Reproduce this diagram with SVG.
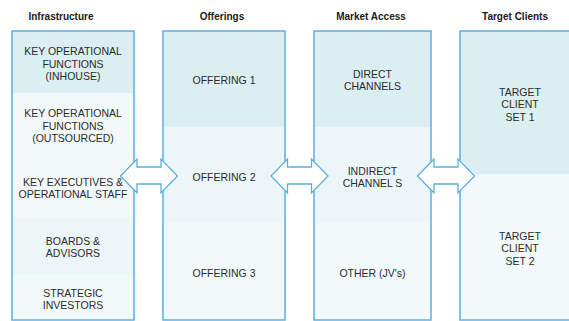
<svg xmlns="http://www.w3.org/2000/svg" width="569" height="321" viewBox="0 0 569 321">
  <style>
    .title { font-family: "Liberation Sans", Arial, sans-serif; font-weight: bold; font-size: 10px; fill: #1a1a1a; text-anchor: middle; }
    .lbl { font-family: "Liberation Sans", Arial, sans-serif; font-size: 10.5px; fill: #2b2b2b; text-anchor: middle; }
    .dark { fill: #dbeef2; }
    .mid { fill: #ecf5f8; }
    .light { fill: #f3f9fb; }
    .frame { fill: none; stroke: #5fade3; stroke-width: 1.5; }
    .arrow { fill: #ffffff; stroke: #5aaee0; stroke-width: 1.3; stroke-linejoin: miter; }
  </style>
  <defs>
    <!-- double-headed block arrow, 57 wide, centred on its origin -->
    <polygon id="dblArrow" points="-28.5,0 -12,-17 -12,-9 12,-9 12,-17 28.5,0 12,17 12,8 -12,8 -12,17"/>
  </defs>

  <rect width="569" height="321" fill="#ffffff"/>

  <!-- column headings -->
  <g id="headings">
    <text class="title" x="61" y="20">Infrastructure</text>
    <text class="title" x="222" y="20">Offerings</text>
    <text class="title" x="371" y="20">Market Access</text>
    <text class="title" x="515" y="20">Target Clients</text>
  </g>

  <!-- Infrastructure column -->
  <g id="infrastructure">
    <rect class="dark" x="12" y="31" width="122" height="62"/>
    <rect class="light" x="12" y="93" width="122" height="62"/>
    <rect class="light" x="12" y="155" width="122" height="62"/>
    <rect class="mid" x="12" y="217" width="122" height="58"/>
    <rect class="light" x="12" y="275" width="122" height="45"/>
    <rect class="frame" x="12" y="31" width="122" height="289"/>
    <text class="lbl" x="73"><tspan x="73" y="55">KEY OPERATIONAL</tspan><tspan x="73" y="67.5">FUNCTIONS</tspan><tspan x="73" y="80">(INHOUSE)</tspan></text>
    <text class="lbl" x="73"><tspan x="73" y="117">KEY OPERATIONAL</tspan><tspan x="73" y="129.5">FUNCTIONS</tspan><tspan x="73" y="142">(OUTSOURCED)</tspan></text>
    <text class="lbl" x="73"><tspan x="73" y="186">KEY EXECUTIVES &amp;</tspan><tspan x="73" y="197.5">OPERATIONAL STAFF</tspan></text>
    <text class="lbl" x="73"><tspan x="73" y="245">BOARDS &amp;</tspan><tspan x="73" y="257">ADVISORS</tspan></text>
    <text class="lbl" x="73"><tspan x="73" y="297">STRATEGIC</tspan><tspan x="73" y="309">INVESTORS</tspan></text>
  </g>

  <!-- Offerings column -->
  <g id="offerings">
    <rect class="dark" x="163" y="31" width="122" height="96"/>
    <rect class="mid" x="163" y="127" width="122" height="96"/>
    <rect class="light" x="163" y="223" width="122" height="97"/>
    <rect class="frame" x="163" y="31" width="122" height="289"/>
    <text class="lbl" x="224" y="84">OFFERING 1</text>
    <text class="lbl" x="224" y="181">OFFERING 2</text>
    <text class="lbl" x="224" y="277">OFFERING 3</text>
  </g>

  <!-- Market Access column -->
  <g id="market-access">
    <rect class="dark" x="314" y="31" width="117" height="96"/>
    <rect class="mid" x="314" y="127" width="117" height="96"/>
    <rect class="light" x="314" y="223" width="117" height="97"/>
    <rect class="frame" x="314" y="31" width="117" height="289"/>
    <text class="lbl" x="372.5"><tspan x="372.5" y="78">DIRECT</tspan><tspan x="372.5" y="90">CHANNELS</tspan></text>
    <text class="lbl" x="372.5"><tspan x="372.5" y="175">INDIRECT</tspan><tspan x="372.5" y="187">CHANNEL S</tspan></text>
    <text class="lbl" x="372.5" y="277">OTHER (JV's)</text>
  </g>

  <!-- Target Clients column -->
  <g id="target-clients">
    <rect class="dark" x="460" y="31" width="120" height="143"/>
    <rect class="light" x="460" y="174" width="120" height="146"/>
    <rect class="frame" x="460" y="31" width="120" height="289"/>
    <text class="lbl" x="520"><tspan x="520" y="96">TARGET</tspan><tspan x="520" y="108">CLIENT</tspan><tspan x="520" y="121">SET 1</tspan></text>
    <text class="lbl" x="520"><tspan x="520" y="240">TARGET</tspan><tspan x="520" y="252">CLIENT</tspan><tspan x="520" y="265">SET 2</tspan></text>
  </g>

  <!-- two-way links between columns -->
  <g id="connectors">
    <use href="#dblArrow" class="arrow" x="149" y="176"/>
    <use href="#dblArrow" class="arrow" x="299.5" y="176"/>
    <use href="#dblArrow" class="arrow" x="446" y="176"/>
  </g>
</svg>
